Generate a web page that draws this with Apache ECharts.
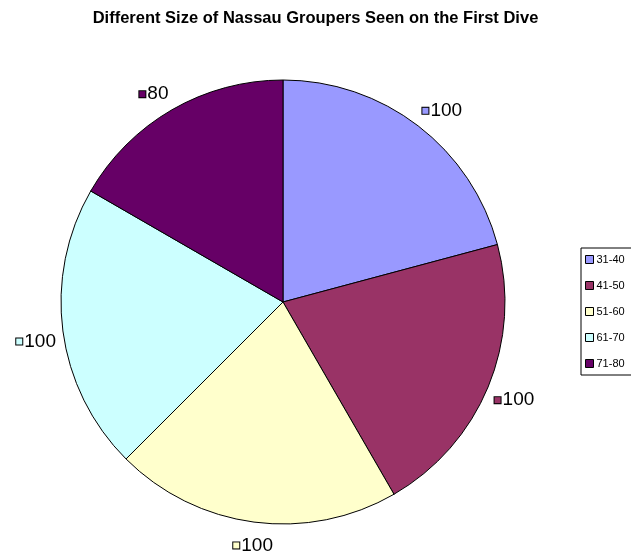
<!DOCTYPE html>
<html>
<head>
<meta charset="utf-8">
<script src="https://cdn.jsdelivr.net/npm/echarts@6/dist/echarts.min.js"></script>
<style>
html,body{margin:0;padding:0;background:#fff;}
#chart{width:631px;height:554px;}
</style>
</head>
<body>
<div id="chart"></div>
<script>
const titleText = 'Different Size of Nassau Groupers Seen on the First Dive';
const categories = ['31-40', '41-50', '51-60', '61-70', '71-80'];
const values = [100, 100, 100, 100, 80];
const colors = ['#9999FF', '#993366', '#FFFFCC', '#CCFFFF', '#660066'];

const CX = 283, CY = 302, R = 222, GAP = 7;
const FONT = 'Arial, "Liberation Sans", sans-serif';

const total = values.reduce((a, b) => a + b, 0);
const rich = {};
colors.forEach((c, i) => {
  rich['s' + i] = { width: 6, height: 6, backgroundColor: c, borderColor: '#000', borderWidth: 1 };
});
rich.v = { fontSize: 19, fontFamily: FONT, color: '#000', padding: [0, 0, 0, 2] };

const chart = echarts.init(document.getElementById('chart'), null, { renderer: 'canvas' });
chart.setOption({
  animation: false,
  backgroundColor: '#fff',
  title: {
    text: titleText, left: 'center', top: 5,
    textStyle: { fontSize: 16.5, fontWeight: 'bold', fontFamily: FONT, color: '#000' }
  },
  legend: {
    orient: 'vertical', left: 581, top: 248,
    data: categories,
    icon: 'rect', itemWidth: 8, itemHeight: 8, itemGap: 15,
    padding: [6, 30, 6, 4],
    borderColor: '#000', borderWidth: 1,
    itemStyle: { borderColor: '#000', borderWidth: 1 },
    textStyle: { fontSize: 11, fontFamily: FONT, color: '#000', padding: [0, 0, 0, -2] },
    selectedMode: false
  },
  series: [{
    type: 'pie',
    center: [CX, CY], radius: R,
    startAngle: 90, clockwise: true,
    avoidLabelOverlap: false,
    itemStyle: { borderColor: '#000', borderWidth: 1 },
    label: {
      show: true, position: 'outside',
      formatter: p => '{s' + p.dataIndex + '|}{v|' + p.value + '}',
      rich: rich
    },
    labelLine: { show: false },
    labelLayout: function (p) {
      const i = p.dataIndex;
      let before = 0;
      for (let k = 0; k < i; k++) before += values[k];
      const th = (before + values[i] / 2) / total * Math.PI * 2;
      const s = Math.sin(th), c = Math.cos(th);
      const d = R + GAP;
      const down = c < 0 ? 7 * c * c : 0;
      return {
        x: CX + d * s, y: CY - d * c + down,
        align: s > 0.3 ? 'left' : (s < -0.3 ? 'right' : 'center'),
        verticalAlign: c > 0.1 ? 'bottom' : (c < -0.1 ? 'top' : 'middle')
      };
    },
    emphasis: { disabled: true },
    data: categories.map((n, i) => ({ name: n, value: values[i], itemStyle: { color: colors[i] } }))
  }]
});
</script>
</body>
</html>
